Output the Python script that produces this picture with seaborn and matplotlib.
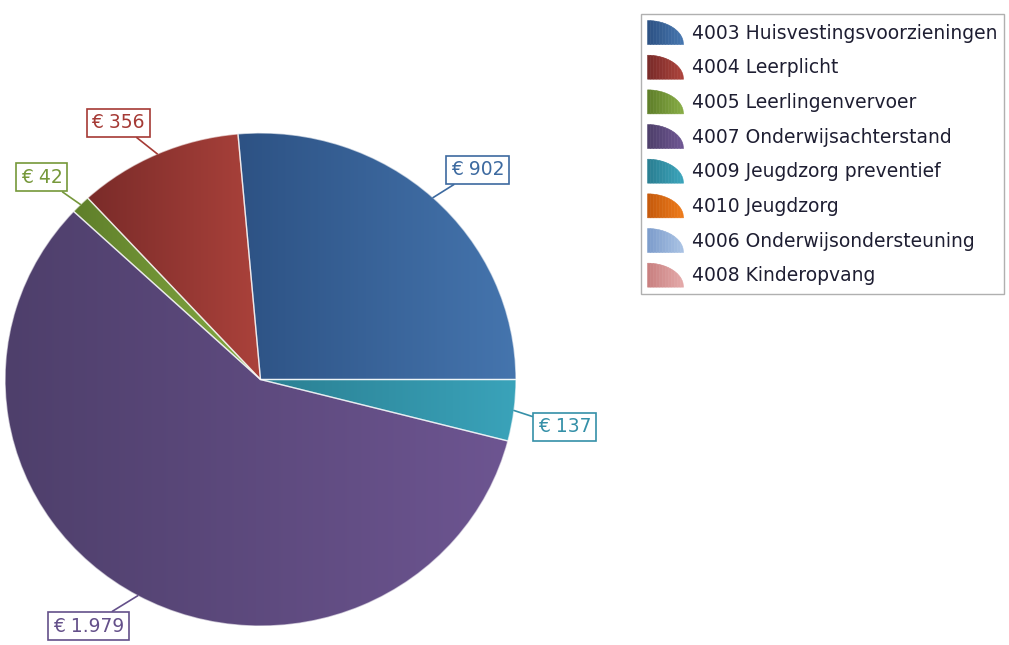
import numpy as np
import matplotlib
matplotlib.use('Agg')
import matplotlib.pyplot as plt
import seaborn as sns
from matplotlib.legend_handler import HandlerBase
from matplotlib.patches import Polygon

W, H = 1009, 645

# data
categories = ['4003 Huisvestingsvoorzieningen', '4004 Leerplicht', '4005 Leerlingenvervoer',
              '4007 Onderwijsachterstand', '4009 Jeugdzorg preventief', '4010 Jeugdzorg',
              '4006 Onderwijsondersteuning', '4008 Kinderopvang']
amounts = [902, 356, 42, 1979, 137, 0, 0, 0]
dark_colors = ['#2d5284', '#7a2b29', '#5f7f2a', '#4e3f6b', '#2a7f92', '#c65a0c', '#7d9dcc', '#c98080']
light_colors = ['#4575ae', '#ab423b', '#86ab44', '#6d5591', '#3aa3ba', '#ec7a1a', '#a8c1e3', '#e3a8a8']
label_colors = ['#3d6aa0', '#a53a35', '#76983a', '#64508a', '#3590a8', '#e06d10', '#90acd6', '#d89090']


class QuarterHandler(HandlerBase):
    # quarter-ellipse legend icon with a left-to-right gradient
    def __init__(self, dark, light):
        super().__init__()
        self.dark, self.light = dark, light

    def create_artists(self, legend, orig_handle, xdescent, ydescent,
                       width, height, fontsize, trans):
        x0, y0 = -xdescent, -ydescent
        cols = sns.blend_palette([self.dark, self.light], 12)
        edges = np.linspace(0, 1, 13)
        arts = []
        for i, c in enumerate(cols):
            a, b = edges[i], edges[i + 1]
            u = np.linspace(a, b, 6)
            top = np.sqrt(np.clip(1 - u ** 2, 0, 1))
            pts = [(x0 + a * width, y0)]
            pts += [(x0 + uu * width, y0 + tt * height) for uu, tt in zip(u, top)]
            pts += [(x0 + b * width, y0)]
            arts.append(Polygon(pts, closed=True, fc=c, ec=c, lw=0.4, transform=trans))
        return arts


sns.set_theme(style='white')
plt.rcParams['font.family'] = ['DejaVu Sans']
FS = 13.5

fig = plt.figure(figsize=(W / 100, H / 100), dpi=100)
ax = fig.add_axes([0, 0, 1, 1])
k = 0.965  # pie is slightly wider than tall
cx, cy, r = 260.5, (H - 379.5) / k, 255.5

wedges, _ = ax.pie(amounts, center=(cx, cy), radius=r, startangle=0, counterclock=True,
                   wedgeprops=dict(linewidth=1, edgecolor=(1, 1, 1, 0.6)))

pad_px = 0.25 * FS * 100 / 72
for w, v, d, l, lc in zip(wedges, amounts, dark_colors, light_colors, label_colors):
    if v == 0:
        w.set_visible(False)
        continue
    t = np.radians(np.linspace(w.theta1, w.theta2, 100))
    xs = np.r_[cx, cx + r * np.cos(t)]
    ys = np.r_[cy, cy + r * np.sin(t)]
    cmap = sns.blend_palette([d, l], as_cmap=True)
    im = ax.imshow(np.linspace(0, 1, 256)[None, :], cmap=cmap, aspect='auto',
                   extent=[xs.min(), xs.max(), ys.min(), ys.max()], zorder=1)
    im.set_clip_path(w)
    w.set_facecolor('none')
    w.set_zorder(2)

    mid = np.radians((w.theta1 + w.theta2) / 2)
    ux, uy = np.cos(mid), np.sin(mid)
    sx, sy = np.sign(ux), np.sign(uy)
    ax.annotate(f'€ {v:,}'.replace(',', '.'),
                xy=(cx + r * ux, cy + r * uy),
                xytext=(cx + 1.075 * r * ux + sx * pad_px, cy + 1.075 * r * uy + sy * pad_px / k),
                ha='left' if ux > 0 else 'right', va='bottom' if uy > 0 else 'top',
                color=lc, fontsize=FS, zorder=5, annotation_clip=False,
                bbox=dict(boxstyle='square,pad=0.25', fc='white', ec=lc, lw=1.2),
                arrowprops=dict(arrowstyle='-', color=lc, lw=1.2, shrinkA=0, shrinkB=0))

ax.set_xlim(0, W)
ax.set_ylim(0, H / k)
ax.set_aspect(k)
ax.axis('off')

leg = ax.legend(wedges, categories,
                handler_map={w: QuarterHandler(d, l) for w, d, l in zip(wedges, dark_colors, light_colors)},
                loc='upper left', bbox_to_anchor=(641 / W, 1 - 14 / H), bbox_transform=fig.transFigure,
                borderaxespad=0, frameon=True, fancybox=False, edgecolor='#b0b0b0', framealpha=1,
                fontsize=FS, handlelength=1.92, handleheight=1.59, labelspacing=0.57,
                handletextpad=0.45, borderpad=0.35)
leg.get_frame().set_linewidth(1)
for txt in leg.get_texts():
    txt.set_color('#1e1e32')

fig.savefig('out.png', dpi=100)
